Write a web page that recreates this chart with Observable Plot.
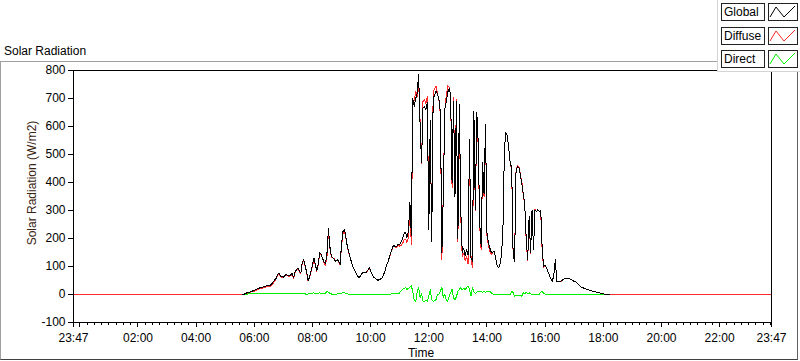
<!DOCTYPE html>
<html><head><meta charset="utf-8">
<script src="https://cdn.jsdelivr.net/npm/d3@7"></script>
<script src="https://cdn.jsdelivr.net/npm/@observablehq/plot@0.6"></script>
<style>
body{margin:0;background:#fff;font-family:"Liberation Sans",Arial,sans-serif;font-size:12px;color:#000;}
#wrap{position:relative;width:800px;height:361px;overflow:hidden;background:#fff;}
#wrap svg{position:absolute;left:0;top:0;}
.abs{position:absolute;white-space:nowrap;line-height:14px;z-index:2;}
.panel{position:absolute;left:0;top:61px;width:796px;height:297px;border-top:1px solid #a0a0a0;border-left:1px solid #a0a0a0;border-right:1px solid #606060;border-bottom:1px solid #404040;z-index:0;}
.legend{position:absolute;left:717px;top:0;width:83px;height:71px;background:#fff;border-left:1px solid #d4d4d4;border-bottom:1px solid #d4d4d4;z-index:3;}
.lbox{position:absolute;left:3px;width:40px;height:16px;border:1px solid #222;background:#fff;line-height:16px;padding-left:2px;}
.ibox{position:absolute;left:50px;width:28px;height:16px;border:1px solid #222;background:#fff;}
.ibox svg{position:absolute;left:0;top:0;}
</style></head><body><div id="wrap"></div>
<script>
// ---- data ----
const seriesNames = ["Global", "Diffuse", "Direct"];
const seriesColors = ["#000000", "#ff2a2a", "#00f000"];
const dayStart = "05:36";      // first daytime sample
const stepMinutes = 3;         // sampling interval of daytime records
const globalRad = [
0,1,4,6,8,9,11,13,15,18,20,22,24,25,27,28,30,31,32,33,
38,45,52,58,70,77,65,63,62,68,71,68,66,70,77,59,80,89,95,84,
77,115,125,101,80,50,62,85,105,131,105,85,110,150,145,128,115,110,150,234,
170,135,131,125,119,125,119,108,180,225,232,205,170,150,131,112,98,88,76,66,
60,66,76,78,77,80,86,96,85,71,62,58,54,51,53,56,60,72,87,105,
118,135,152,168,176,170,172,180,178,190,200,218,222,204,226,330,210,700,672,700,
718,785,610,470,665,672,660,685,230,620,190,700,712,726,715,696,650,150,360,660,
690,722,735,714,400,690,350,690,200,680,300,150,166,140,160,140,554,131,119,655,
304,649,540,256,172,470,360,607,220,185,166,150,152,155,131,102,95,110,140,240,
520,578,568,520,468,455,137,119,440,458,452,425,395,360,320,200,125,280,150,300,
160,303,295,303,296,300,160,100,104,95,80,68,55,48,70,125,45,47,48,48,
52,55,57,59,57,55,54,50,47,46,40,36,30,26,24,22,20,18,16,14,
13,12,11,9,7,6,5,3,2,1,0,0,0];
const diffuseRad = [
0,1,3,5,6,7,9,10,12,15,17,19,22,22,24,26,27,28,29,29,
34,40,48,55,68,75,63,61,60,66,69,66,63,67,73,56,78,86,91,81,
75,112,121,99,79,48,60,82,100,125,102,83,106,144,141,126,112,105,138,226,
166,133,131,127,119,123,116,106,175,217,226,201,168,149,130,112,98,87,75,66,
60,65,75,78,77,80,85,95,85,71,62,58,54,51,52,55,60,71,86,105,
118,134,150,165,174,168,170,177,172,176,182,196,198,186,204,304,177,692,693,726,
708,761,622,468,689,698,680,709,236,602,208,724,734,744,715,694,638,124,372,660,
708,746,741,708,382,702,368,698,188,662,276,134,145,122,136,110,536,137,95,646,
300,640,528,247,160,462,348,599,210,176,154,144,150,155,130,102,95,110,140,240,
520,578,569,521,468,443,131,125,443,460,455,429,401,354,318,191,121,274,148,300,
160,304,295,303,296,291,148,96,103,95,80,68,55,48,70,125,45,47,48,46,
52,55,57,59,57,55,54,50,47,46,40,36,30,26,24,22,20,18,16,14,
13,12,11,9,7,6,5,3,2,1,0,0,0];
const directRad = [
0,0,1,1,2,2,2,3,3,3,3,3,2,3,3,2,3,3,3,4,
4,5,4,3,2,2,2,2,2,2,2,2,3,3,4,3,2,3,4,3,
2,3,4,2,1,2,2,3,5,6,3,2,4,6,4,2,3,5,12,8,
4,2,0,-2,0,2,3,2,5,8,6,4,2,1,1,0,0,1,1,0,
0,1,1,0,0,0,1,1,0,0,0,0,0,0,1,1,0,1,1,0,
0,1,2,3,2,2,2,3,6,14,18,22,24,18,22,26,33,8,-21,-26,
10,24,-12,2,-24,-26,-20,-24,-6,18,-18,-24,-22,-18,0,2,12,26,-12,0,
-18,-24,-6,6,18,-12,-18,-8,12,18,24,16,21,18,24,30,18,-6,24,9,
4,9,12,9,12,8,12,8,10,9,12,6,2,0,1,0,0,0,0,0,
0,0,-1,-1,0,12,6,-6,-3,-2,-3,-4,-6,6,2,9,4,6,2,0,
0,-1,0,0,0,9,12,4,1,0,0,0,0,0,0,0,0,0,0,2,
0,0,0,0,0,0,0,0,0,0,0,0,0,0,0,0,0,0,0,0,
0,0,0,0,0,0,0,0,0,0,0,0,0];
// night-time readings (minutes from midnight; 23:47 of the previous day = -13)
const nightMinutes = [-13, 333, 1095, 1427];
const diffuseNight = [-1, -1, -1, -1];
// axes
const yTicks = [-100, 0, 100, 200, 300, 400, 500, 600, 700, 800];
const xTickMinutes = [-13, 120, 240, 360, 480, 600, 720, 840, 960, 1080, 1200, 1320, 1427];
const xTickLabels = ["23:47","02:00","04:00","06:00","08:00","10:00","12:00","14:00","16:00","18:00","20:00","22:00","23:47"];

// ---- build ----
const [sh, sm] = dayStart.split(":").map(Number);
const t0 = sh * 60 + sm;
const dayT = globalRad.map((_, i) => t0 + i * stepMinutes);
const globalLine = dayT.map((t, i) => ({t, v: globalRad[i]}));
const diffuseLine = [{t: nightMinutes[0], v: diffuseNight[0]}, {t: nightMinutes[1], v: diffuseNight[1]}]
  .concat(dayT.map((t, i) => ({t, v: diffuseRad[i]})))
  .concat([{t: nightMinutes[2], v: diffuseNight[2]}, {t: nightMinutes[3], v: diffuseNight[3]}]);
const directLine = dayT.map((t, i) => ({t, v: directRad[i]}));

const labelMap = new Map(xTickMinutes.map((m, i) => [m, xTickLabels[i]]));
const majorTicks = [0].concat(xTickMinutes);
const minorTicks = d3.range(15, 1440, 15).filter(m => m % 120 !== 0);

const chart = Plot.plot({
  width: 800, height: 361,
  marginLeft: 73, marginRight: 29, marginTop: 70, marginBottom: 39,
  x: {domain: [-13, 1427]},
  y: {domain: [-100, 800]},
  style: {fontFamily: "Liberation Sans, Arial, sans-serif", fontSize: "12px", color: "#000", background: "transparent", overflow: "visible"},
  marks: [
    Plot.line(diffuseLine, {x: "t", y: "v", stroke: seriesColors[1], strokeWidth: 1}),
    Plot.line(directLine, {x: "t", y: "v", stroke: seriesColors[2], strokeWidth: 1}),
    Plot.line(globalLine, {x: "t", y: "v", stroke: seriesColors[0], strokeWidth: 1}),
    Plot.frame({stroke: "#000"}),
    Plot.axisY({ticks: yTicks, tickSize: 5, tickPadding: 3, label: null, tickFormat: d => String(d)}),
    Plot.axisX({ticks: majorTicks, tickSize: 5, tickPadding: 6, label: null, tickFormat: d => labelMap.get(d) ?? ""}),
    Plot.axisX({ticks: minorTicks, tickSize: 3, label: null, tickFormat: () => ""})
  ]
});
d3.select(chart).selectAll("path, rect, line").attr("shape-rendering", "crispEdges");

const wrap = document.getElementById("wrap");
const panel = document.createElement("div"); panel.className = "panel"; wrap.appendChild(panel);
wrap.appendChild(chart);

function addText(txt, css) {
  const d = document.createElement("div"); d.className = "abs"; d.textContent = txt;
  Object.assign(d.style, css); wrap.appendChild(d); return d;
}
addText("Solar Radiation", {left: "4px", top: "44px", background: "#fff"});
addText("Solar Radiation (W/m2)", {left: "31.5px", top: "183px", transform: "translate(-50%,-50%) rotate(-90deg)", color: "#3a2410"});
addText("Time", {left: "421px", top: "353px", transform: "translate(-50%,-50%)"});

const legend = document.createElement("div"); legend.className = "legend"; wrap.appendChild(legend);
seriesNames.forEach((name, i) => {
  const top = 3 + i * 23.5;
  const lb = document.createElement("div"); lb.className = "lbox"; lb.style.top = top + "px"; lb.textContent = name;
  legend.appendChild(lb);
  const ib = document.createElement("div"); ib.className = "ibox"; ib.style.top = top + "px";
  ib.innerHTML = `<svg width="28" height="16"><polyline points="1,13 7,3 15,13 26,2" fill="none" stroke="${seriesColors[i]}" stroke-width="1"/></svg>`;
  legend.appendChild(ib);
});
</script></body></html>
